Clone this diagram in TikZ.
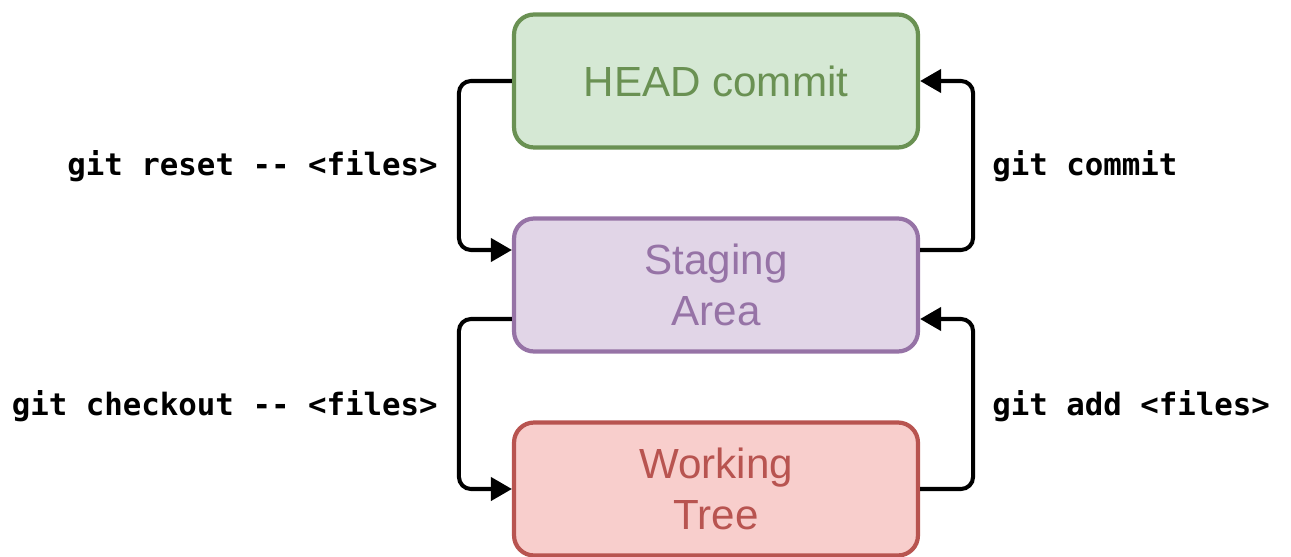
\documentclass[tikz,border=0pt]{standalone}
\usepackage{fontspec}
\setmainfont{Liberation Sans}
\newfontfamily\cmdfont{DejaVu Sans Mono}
\usetikzlibrary{ positioning, % For easy node-relative placements
                 calc,        % For shifted anchors
                 arrows.meta, % For the triangle tips
               }
\definecolor{headfill}{HTML}{D5E8D4}
\definecolor{headline}{HTML}{6A9153}
\definecolor{stagefill}{HTML}{E1D5E7}
\definecolor{stageline}{HTML}{9673A6}
\definecolor{workfill}{HTML}{F8CECC}
\definecolor{workline}{HTML}{B85450}

\begin{document}
\begin{tikzpicture}[x=0.02cm, y=-0.02cm,
    area/.style={draw, rounded corners=0.4cm, line width=2.4pt,
                 minimum width=8.08cm, minimum height=2.66cm, align=center,
                 font=\fontsize{24}{29.5}\selectfont},
    link/.style={line width=2.3pt, rounded corners=0.24cm,
                 -{Triangle[length=0.42cm,width=0.46cm]}},
    cmd/.style={inner sep=0pt, font=\cmdfont\bfseries\fontsize{17.5}{20}\selectfont}]
    \useasboundingbox (0,0) rectangle (1291,557);
    \node[area, fill=headfill, draw=headline, text=headline] (head) at (716,81) {HEAD commit};
    \node[area, fill=stagefill, draw=stageline, text=stageline] (stage) at (716,285) {Staging\\Area};
    \node[area, fill=workfill, draw=workline, text=workline] (work) at (716,489) {Working\\Tree};
    \draw[link] (head.west) -- ++(-53,0) |- ($(stage.west)+(0,-35)$);
    \draw[link] ($(stage.east)+(0,-35)$) -- ++(53,0) |- (head.east);
    \draw[link] ($(stage.west)+(0,34)$) -- ++(-53,0) |- (work.west);
    \draw[link] (work.east) -- ++(53,0) |- ($(stage.east)+(0,34)$);
    \node[cmd, anchor=base east] (reset) at (438,176) {git reset -{}- <files>};
    \node[cmd, anchor=base west] (commit) at (992,176) {git commit};
    \node[cmd, anchor=base east] (checkout) at (438,415) {git checkout -{}- <files>};
    \node[cmd, anchor=base west] (add) at (992,415) {git add <files>};
  \end{tikzpicture}
\end{document}
